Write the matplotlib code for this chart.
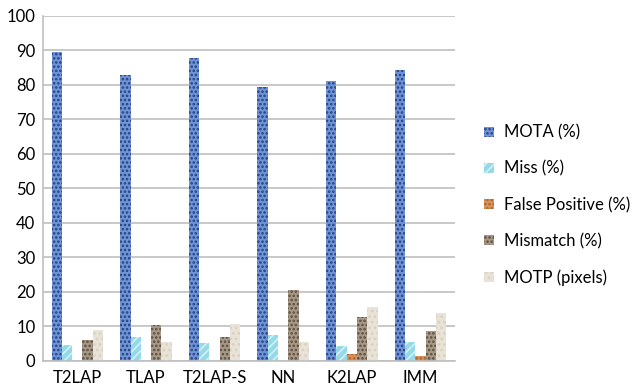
import matplotlib
matplotlib.use("Agg")
import matplotlib.pyplot as plt
import numpy as np

plt.rcParams['font.family'] = ['Lato', 'DejaVu Sans']
plt.rcParams['hatch.linewidth'] = 1.2

methods = ["T2LAP", "TLAP", "T2LAP-S", "NN", "K2LAP", "IMM"]
series_names = ["MOTA (%)", "Miss (%)", "False Positive (%)", "Mismatch (%)", "MOTP (pixels)"]
mota = [89.5, 82.9, 87.7, 79.3, 81.2, 84.3]
miss = [4.6, 6.9, 5.3, 7.5, 4.3, 5.6]
false_pos = [0.0, 0.0, 0.0, 0.0, 2.0, 1.4]
mismatch = [6.1, 10.4, 6.9, 20.6, 12.8, 8.7]
motp = [9.0, 5.6, 10.7, 5.6, 15.7, 14.0]
y_ticks = [0, 10, 20, 30, 40, 50, 60, 70, 80, 90, 100]

series = [mota, miss, false_pos, mismatch, motp]
styles = [
    dict(facecolor="#6f93d6", edgecolor="#22407e", hatch="...."),
    dict(facecolor="#93d9e7", edgecolor="#d2f1f6", hatch="////"),
    dict(facecolor="#d9925a", edgecolor="#a8642c", hatch="...."),
    dict(facecolor="#a79886", edgecolor="#5a4c40", hatch="...."),
    dict(facecolor="#e9e3d7", edgecolor="#d9d1c2", hatch="..."),
]

fig = plt.figure(figsize=(6.37, 3.87), dpi=100)
ax = fig.add_axes([0.0675, 0.0672, 0.6465, 0.8915])

x = np.arange(len(methods))
width = 0.15
for i, (vals, name, st) in enumerate(zip(series, series_names, styles)):
    ax.bar(x + (i - 2) * width, vals, width, label=name, linewidth=0, **st)

ax.set_xlim(-0.5, len(methods) - 0.5)
ax.set_ylim(0, 100)
ax.set_yticks(y_ticks)
ax.set_xticks(x)
ax.set_xticklabels(methods)
ax.tick_params(axis='both', length=0, labelsize=12, colors="#000000")
ax.tick_params(axis='x', pad=6.5)
ax.tick_params(axis='y', pad=5.5)
ax.grid(axis='y', color="#bfbfbf", linewidth=1.2)
ax.set_axisbelow(True)
for side in ["top", "right"]:
    ax.spines[side].set_visible(False)
ax.spines["left"].set_color("#bfbfbf")
ax.spines["bottom"].set_color("#bfbfbf")
ax.spines["left"].set_linewidth(1.2)
ax.spines["bottom"].set_linewidth(1.2)

fig.legend(loc="center left", bbox_to_anchor=(0.737, 0.47), frameon=False,
           fontsize=12, handlelength=0.55, handleheight=0.55,
           handletextpad=0.6, labelspacing=1.2)

fig.savefig("out.png", dpi=100)
